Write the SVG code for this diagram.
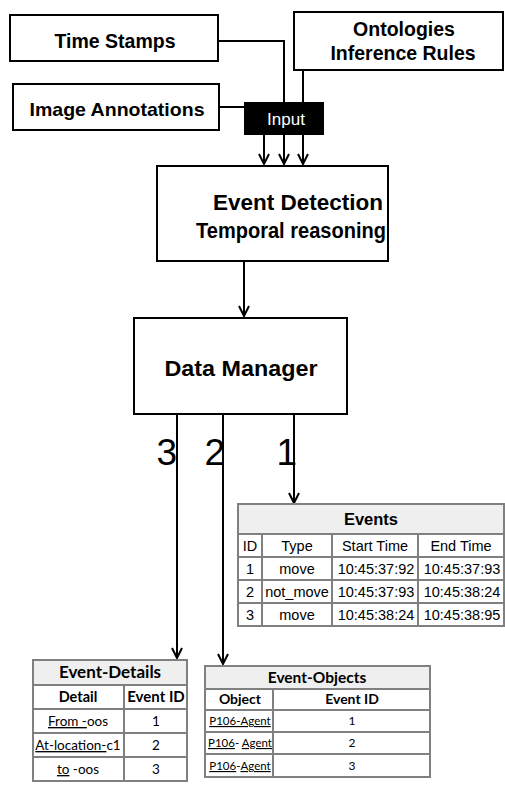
<svg xmlns="http://www.w3.org/2000/svg" width="505" height="788" viewBox="0 0 505 788">
<style>
.box{fill:#fff;stroke:#000;stroke-width:2}
.lbl{font-family:"Liberation Sans",Arial,sans-serif;font-weight:bold;fill:#000;text-anchor:middle}
.con{fill:none;stroke:#000;stroke-width:2}
.num{font-family:"Liberation Sans",Arial,sans-serif;font-size:37px;fill:#000;text-anchor:end}
.tb{fill:#fff;stroke:#808080;stroke-width:2}
.th{fill:#efefef;stroke:#808080;stroke-width:2}
.tl{stroke:#808080;stroke-width:2}
.ta{font-family:"Liberation Sans",Arial,sans-serif;font-size:14.5px;fill:#000;text-anchor:middle}
.tc{font-family:Lato,"Noto Sans",sans-serif;fill:#000;text-anchor:middle}
.u{text-decoration:underline}
</style>
<defs>
<marker id="ah" viewBox="0 0 12 12" refX="11" refY="6" markerWidth="12" markerHeight="12" markerUnits="userSpaceOnUse" orient="auto">
<path d="M1,1 L11,6 L1,11" fill="none" stroke="#000" stroke-width="2"/>
</marker>
</defs>

<g id="connectors">
<polyline class="con" points="218,41 284,41 284,102"/>
<line class="con" x1="303" y1="70" x2="303" y2="102"/>
<line class="con" x1="219" y1="107" x2="244" y2="107"/>
<line class="con" x1="264" y1="135" x2="264" y2="164" marker-end="url(#ah)"/>
<line class="con" x1="284" y1="135" x2="284" y2="164" marker-end="url(#ah)"/>
<line class="con" x1="303" y1="135" x2="303" y2="164" marker-end="url(#ah)"/>
<line class="con" x1="244" y1="261" x2="244" y2="316" marker-end="url(#ah)"/>
<line class="con" x1="294" y1="414" x2="294" y2="503" marker-end="url(#ah)"/>
<line class="con" x1="223" y1="414" x2="223" y2="664" marker-end="url(#ah)"/>
<line class="con" x1="177" y1="414" x2="177" y2="658" marker-end="url(#ah)"/>
<text class="num" x="177" y="465">3</text>
<text class="num" x="225" y="465">2</text>
<text class="num" x="297" y="465">1</text>
</g>

<g id="time-stamps">
<rect class="box" x="10" y="15" width="208" height="46"/>
<text class="lbl" x="115" y="48" font-size="19.5">Time Stamps</text>
</g>
<g id="ontologies">
<rect class="box" x="294" y="12" width="209" height="58"/>
<text class="lbl" x="404" y="36" font-size="19.5">Ontologies</text>
<text class="lbl" x="403" y="60" font-size="19.5">Inference Rules</text>
</g>
<g id="image-annotations">
<rect class="box" x="13" y="84" width="206" height="46"/>
<text class="lbl" x="117" y="116" font-size="19" textLength="175" lengthAdjust="spacingAndGlyphs">Image Annotations</text>
</g>
<g id="input">
<rect x="244" y="102" width="80" height="33" fill="#000"/>
<text x="286" y="125" font-family="Liberation Sans,Arial,sans-serif" font-size="17" fill="#fff" text-anchor="middle">Input</text>
</g>
<g id="event-detection">
<rect class="box" x="157" y="166" width="231" height="95"/>
<text class="lbl" x="298" y="210" font-size="21.5" textLength="170" lengthAdjust="spacingAndGlyphs">Event  Detection</text>
<text class="lbl" x="291" y="238" font-size="21.5" textLength="190" lengthAdjust="spacingAndGlyphs">Temporal reasoning</text>
</g>
<g id="data-manager">
<rect class="box" x="134" y="318" width="213" height="96"/>
<text class="lbl" x="241" y="376" font-size="22" textLength="153" lengthAdjust="spacingAndGlyphs">Data Manager</text>
</g>

<g id="events">
<rect class="tb" x="238" y="504" width="266" height="122"/>
<rect class="th" x="238" y="504" width="266" height="30"/>
<line class="tl" x1="238" y1="557" x2="504" y2="557"/>
<line class="tl" x1="238" y1="580" x2="504" y2="580"/>
<line class="tl" x1="238" y1="603" x2="504" y2="603"/>
<line class="tl" x1="262" y1="534" x2="262" y2="626"/>
<line class="tl" x1="332" y1="534" x2="332" y2="626"/>
<line class="tl" x1="418" y1="534" x2="418" y2="626"/>
<text x="371" y="525" font-family="Liberation Sans,Arial,sans-serif" font-size="16.5" font-weight="bold" text-anchor="middle">Events</text>
<text class="ta" x="250" y="551">ID</text>
<text class="ta" x="297" y="551">Type</text>
<text class="ta" x="375" y="551">Start Time</text>
<text class="ta" x="461" y="551">End Time</text>
<text class="ta" x="250" y="574">1</text>
<text class="ta" x="297" y="574">move</text>
<text class="ta" x="376" y="574">10:45:37:92</text>
<text class="ta" x="462" y="574">10:45:37:93</text>
<text class="ta" x="250" y="597">2</text>
<text class="ta" x="297" y="597">not_move</text>
<text class="ta" x="376" y="597">10:45:37:93</text>
<text class="ta" x="462" y="597">10:45:38:24</text>
<text class="ta" x="250" y="620">3</text>
<text class="ta" x="297" y="620">move</text>
<text class="ta" x="376" y="620">10:45:38:24</text>
<text class="ta" x="462" y="620">10:45:38:95</text>
</g>

<g id="event-details">
<rect class="tb" x="33" y="660" width="154" height="121"/>
<rect class="th" x="33" y="660" width="154" height="25"/>
<line class="tl" x1="33" y1="709" x2="187" y2="709"/>
<line class="tl" x1="33" y1="733" x2="187" y2="733"/>
<line class="tl" x1="33" y1="757" x2="187" y2="757"/>
<line class="tl" x1="124" y1="685" x2="124" y2="781"/>
<text class="tc" x="110" y="678" font-size="17" font-weight="bold">Event-Details</text>
<text class="tc" x="78" y="702" font-size="14.5" font-weight="bold">Detail</text>
<text class="tc" x="156" y="702" font-size="15" font-weight="bold">Event ID</text>
<text class="tc" x="78" y="726" font-size="13.5"><tspan class="u">From -</tspan>oos</text>
<text class="tc" x="156" y="726" font-size="13.5">1</text>
<text class="tc" x="78" y="750" font-size="13.5"><tspan class="u">At-location-</tspan>c1</text>
<text class="tc" x="156" y="750" font-size="13.5">2</text>
<text class="tc" x="78" y="774" font-size="13.5"><tspan class="u">to</tspan> -oos</text>
<text class="tc" x="156" y="774" font-size="13.5">3</text>
</g>

<g id="event-objects">
<rect class="tb" x="205" y="666" width="225" height="111"/>
<rect class="th" x="205" y="666" width="225" height="23"/>
<line class="tl" x1="205" y1="710" x2="430" y2="710"/>
<line class="tl" x1="205" y1="732" x2="430" y2="732"/>
<line class="tl" x1="205" y1="754" x2="430" y2="754"/>
<line class="tl" x1="273" y1="689" x2="273" y2="777"/>
<text class="tc" x="317" y="683" font-size="15.5" font-weight="bold">Event-Objects</text>
<text class="tc" x="240" y="704" font-size="14" font-weight="bold">Object</text>
<text class="tc" x="352" y="704" font-size="14" font-weight="bold">Event ID</text>
<text class="tc" x="240" y="725" font-size="11.5"><tspan class="u">P106-Agent</tspan></text>
<text class="tc" x="352" y="725" font-size="12">1</text>
<text class="tc" x="240" y="747" font-size="11.5"><tspan class="u">P106</tspan>- <tspan class="u">Agent</tspan></text>
<text class="tc" x="352" y="747" font-size="12">2</text>
<text class="tc" x="240" y="770" font-size="11.5"><tspan class="u">P106</tspan>-<tspan class="u">Agent</tspan></text>
<text class="tc" x="352" y="770" font-size="12">3</text>
</g>
</svg>
